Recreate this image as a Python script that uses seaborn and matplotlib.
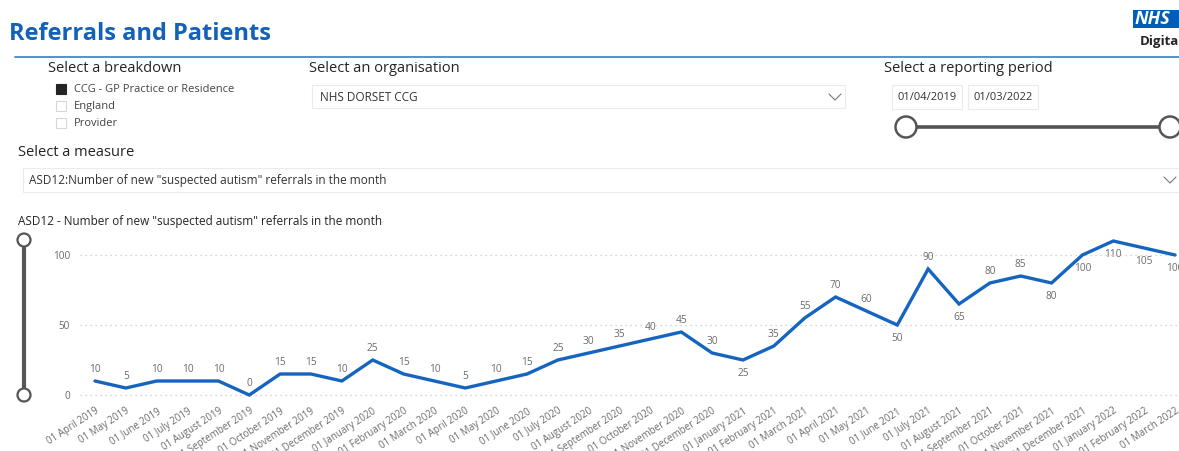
import matplotlib
matplotlib.use("Agg")
import matplotlib.pyplot as plt
from matplotlib.patches import Rectangle, Circle
import seaborn as sns
import pandas as pd

# Monthly counts of new "suspected autism" referrals, NHS Dorset CCG
months = [
    "01 April 2019", "01 May 2019", "01 June 2019", "01 July 2019", "01 August 2019",
    "01 September 2019", "01 October 2019", "01 November 2019", "01 December 2019",
    "01 January 2020", "01 February 2020", "01 March 2020", "01 April 2020",
    "01 May 2020", "01 June 2020", "01 July 2020", "01 August 2020",
    "01 September 2020", "01 October 2020", "01 November 2020", "01 December 2020",
    "01 January 2021", "01 February 2021", "01 March 2021", "01 April 2021",
    "01 May 2021", "01 June 2021", "01 July 2021", "01 August 2021",
    "01 September 2021", "01 October 2021", "01 November 2021", "01 December 2021",
    "01 January 2022", "01 February 2022", "01 March 2022",
]
referrals = [
    10, 5, 10, 10, 10, 0, 15, 15, 10, 25, 15, 10, 5, 10, 15, 25, 30, 35,
    40, 45, 30, 25, 35, 55, 70, 60, 50, 90, 65, 80, 85, 80, 100, 110, 105, 100,
]
y_ticks = [0, 50, 100]

breakdowns = ["CCG - GP Practice or Residence", "England", "Provider"]
organisation = "NHS DORSET CCG"
period_start, period_end = "01/04/2019", "01/03/2022"
measure = 'ASD12:Number of new "suspected autism" referrals in the month'
chart_title = 'ASD12 - Number of new "suspected autism" referrals in the month'

# data labels drawn under the line instead of above it
labels_below = {21, 26, 28, 31, 32, 33, 34, 35}

sns.set_theme(style="white")
plt.rcParams["font.family"] = ["Open Sans", "DejaVu Sans"]

W, H = 1179, 451
fig = plt.figure(figsize=(W / 100, H / 100), dpi=100)
fig.patch.set_facecolor("white")

# background layer in pixel coordinates for the report furniture
bg = fig.add_axes([0, 0, 1, 1])
bg.set_xlim(0, W)
bg.set_ylim(H, 0)
bg.axis("off")

BLUE = "#1461b8"
TXT = "#252423"
GREY = "#6b6b6b"

bg.text(9, 34, "Referrals and Patients", fontsize=17, fontweight="bold",
        color=BLUE, va="center", ha="left")
bg.plot([15, W], [57, 57], color="#3d8ad6", lw=1.3)

# NHS Digital logo
bg.add_patch(Rectangle((1133, 10), 50, 18, facecolor="#005EB8", edgecolor="none"))
bg.text(1135, 19.5, "NHS", fontsize=13, fontweight="bold", fontstyle="italic",
        color="white", va="center", ha="left")
bg.text(1140, 42, "Digital", fontsize=9.5, fontweight="bold", color=TXT,
        va="center", ha="left")

# breakdown slicer
bg.text(48, 68, "Select a breakdown", fontsize=10.5, color=TXT, va="center")
for i, name in enumerate(breakdowns):
    y = 89 + 17 * i
    filled = i == 0
    bg.add_patch(Rectangle((56, y - 5), 10, 10,
                           facecolor="#252423" if filled else "white",
                           edgecolor="#252423" if filled else "#d6d6d6", lw=0.8))
    bg.text(74, y, name, fontsize=8, color="#444444", va="center")

# organisation dropdown
bg.text(309, 68, "Select an organisation", fontsize=10.5, color=TXT, va="center")
bg.add_patch(Rectangle((312, 85), 533, 23, facecolor="white", edgecolor="#ebebeb", lw=0.8))
bg.text(320, 97.5, organisation, fontsize=8.5, color="#333333", va="center")
bg.plot([829, 835, 841], [94, 100, 94], color="#777777", lw=0.8)

# reporting period slider
bg.text(884, 68, "Select a reporting period", fontsize=10.5, color=TXT, va="center")
for x0, txt in [(892, period_start), (968, period_end)]:
    bg.add_patch(Rectangle((x0, 85), 70, 24, facecolor="white", edgecolor="#ebebeb", lw=0.8))
    bg.text(x0 + 35, 97.5, txt, fontsize=8, color="#333333", va="center", ha="center")
bg.plot([906, 1170], [127, 127], color="#555555", lw=2.6, solid_capstyle="butt")
for cx in (906, 1170):
    bg.add_patch(Circle((cx, 127), 10.5, facecolor="white", edgecolor="#555555", lw=1.8, zorder=3))

# measure dropdown
bg.text(18, 152, "Select a measure", fontsize=10.5, color=TXT, va="center")
bg.add_patch(Rectangle((23, 168), 1170, 24, facecolor="white", edgecolor="#ebebeb", lw=0.8))
bg.text(29, 180.5, measure, fontsize=8.5, color="#333333", va="center")
bg.plot([1164, 1170, 1176], [177, 183, 177], color="#777777", lw=0.8)

# chart title and vertical zoom slider
bg.text(18, 221, chart_title, fontsize=8.5, color=TXT, va="center")
bg.plot([24, 24], [240, 395], color="#555555", lw=3, solid_capstyle="butt")
for cy in (240, 395):
    bg.add_patch(Circle((24, cy), 6.5, facecolor="white", edgecolor="#555555", lw=1.6, zorder=3))

# line chart: x index 0 at px 95, index 35 at px 1175; y 0 at px 395, 100 at px 255
px_step = (1175 - 95) / 35
py_unit = (395 - 255) / 100
ax_left, ax_right, ax_top, ax_bottom = 80, W, 232, 400
ax = fig.add_axes([ax_left / W, 1 - ax_bottom / H,
                   (ax_right - ax_left) / W, (ax_bottom - ax_top) / H])
ax.patch.set_alpha(0)

df = pd.DataFrame({"idx": range(len(months)), "month": months, "referrals": referrals})
sns.lineplot(data=df, x="idx", y="referrals", ax=ax, color="#1565c0", lw=2.4,
             solid_joinstyle="miter")

ax.set_xlim((ax_left - 95) / px_step, (ax_right - 95) / px_step)
ax.set_ylim(-(ax_bottom - 395) / py_unit, 100 + (255 - ax_top) / py_unit)

ax.set_yticks(y_ticks)
ax.set_yticklabels([str(v) for v in y_ticks], fontsize=7.2, color=GREY)
ax.set_xticks(df["idx"])
ax.set_xticklabels(months, rotation=33, ha="right", rotation_mode="anchor",
                   fontsize=7, color=GREY)
ax.tick_params(axis="both", length=0)
ax.tick_params(axis="x", pad=4)
ax.tick_params(axis="y", pad=7)
ax.set_xlabel("")
ax.set_ylabel("")
for s in ax.spines.values():
    s.set_visible(False)
for v in y_ticks:
    ax.axhline(v, color="#c8c8c8", lw=0.9, ls=(0, (1, 3)), zorder=0)

for i, v in enumerate(referrals):
    below = i in labels_below
    ax.annotate(str(v), (i, v), xytext=(0, -10 if below else 8), textcoords="offset points",
                ha="center", va="center", fontsize=7.3, color=GREY, annotation_clip=False,
                clip_on=False)

fig.savefig("out.png", dpi=100, facecolor="white")
